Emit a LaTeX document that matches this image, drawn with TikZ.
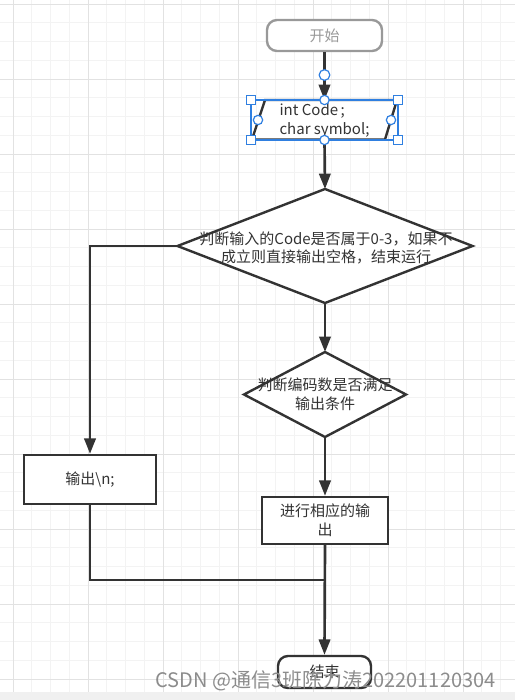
\documentclass[tikz,border=0pt]{standalone}
\usepackage{fontspec}
\setmainfont{Noto Sans CJK SC}
\usetikzlibrary{arrows.meta}
\definecolor{ink}{HTML}{333333}
\definecolor{gridminor}{HTML}{F3F3F3}
\definecolor{gridmajor}{HTML}{E2E2E2}
\definecolor{barbg}{HTML}{F0F0F0}
\definecolor{selblue}{HTML}{2F7FE0}
\definecolor{startgray}{HTML}{999999}
\definecolor{wmark}{HTML}{8C8C8C}
\tikzset{
  gmin/.style={draw=gridminor,line width=0.75pt},
  gmaj/.style={draw=gridmajor,line width=0.75pt},
  txt/.style={text=ink,font=\fontsize{11.25}{14}\selectfont,inner sep=0pt},
  shapebox/.style={draw=ink,line width=1.8pt,fill=white,inner sep=0pt},
  ghost/.style={inner sep=0pt,outer sep=0pt},
  conn/.style={draw=ink,line width=2pt},
  arr/.style={conn,-{Triangle[length=11.5pt,width=8.5pt]}},
  handlesq/.style={draw=selblue,fill=white,line width=0.9pt,minimum size=6.5pt,inner sep=0pt},
  handlecirc/.style={draw=selblue,fill=white,line width=0.9pt,circle,minimum size=7pt,inner sep=0pt},
}
\begin{document}
\begin{tikzpicture}[x=0.75pt,y=-0.75pt]
\useasboundingbox (0,0) rectangle (515,700);
\fill[white] (0,0) rectangle (515,700);
% grid
\foreach \i in {0,...,26} {\draw[gmin] ({13+18.75*\i},0) -- ({13+18.75*\i},692);}
\foreach \j in {0,...,36} {\draw[gmin] (0,{4+18.75*\j}) -- (515,{4+18.75*\j});}
\foreach \i in {0,...,6} {\draw[gmaj] ({13+75*\i},0) -- ({13+75*\i},692);}
\foreach \j in {0,...,9} {\draw[gmaj] (0,{4+75*\j}) -- (515,{4+75*\j});}
\fill[barbg] (0,692) rectangle (515,700);

% nodes
\node[shapebox,draw=startgray,rounded corners=7.5pt,minimum width=86.25pt,minimum height=23.25pt,
      text=startgray,font=\fontsize{11.25}{14}\selectfont] (start) at (324.5,35.5) {开始};

\node[ghost,minimum width=110.25pt,minimum height=30pt] (io) at (324.5,120) {};
\draw[shapebox] (265,100) -- (397,100) -- (385,139.5) -- (252,139.5) -- cycle;
\node[txt,align=left] (iotext) at (324.5,121) {int Code\,;\\char symbol;};

\node[ghost,minimum width=221.25pt,minimum height=85.5pt] (d1) at (325,246) {};
\draw[shapebox] (d1.north) -- (d1.east) -- (d1.south) -- (d1.west) -- cycle;
\node[txt,align=center] (d1text) at (326,248) {判断输入的Code是否属于0-3，如果不\\成立则直接输出空格，结束运行};

\node[ghost,minimum width=121.5pt,minimum height=63.75pt] (d2) at (325,394.5) {};
\draw[shapebox] (d2.north) -- (d2.east) -- (d2.south) -- (d2.west) -- cycle;
\node[txt,align=center] (d2text) at (325,394.5) {判断编码数是否满足\\输出条件};

\node[shapebox,minimum width=99pt,minimum height=36.75pt,txt] (b1) at (90,479.5) {输出\textbackslash n;};
\node[shapebox,minimum width=94.5pt,minimum height=35.25pt,txt,align=center] (b2) at (325,520.5) {进行相应的输\\出};

\node[shapebox,rounded corners=7.5pt,minimum width=69.75pt,minimum height=24pt,txt] (end) at (324.5,672) {\raisebox{1.5pt}{结束}};

\coordinate (join) at (324.5,580);

% connectors
\draw[arr] (start.south) -- (io.north);
\draw[arr] (io.south) -- (d1.north);
\draw[arr] (d1.west) -| (b1.north);
\draw[arr] (d1.south) -- (d2.north);
\draw[arr] (d2.south) -- (b2.north);
\draw[arr] (b2.south) -- (end.north);
\draw[conn] (b1.south) |- (join);

% selection decorations
\draw[selblue,line width=0.9pt] (io.north west) rectangle (io.south east);
\node[handlesq] (h1) at (io.north west) {};
\node[handlesq] (h2) at (io.north east) {};
\node[handlesq] (h3) at (io.south west) {};
\node[handlesq] (h4) at (io.south east) {};
\node[handlecirc] (c1) at (io.north) {};
\node[handlecirc] (c2) at (io.south) {};
\node[handlecirc] (c3) at (258,120) {};
\node[handlecirc] (c4) at (391,120) {};
\node[handlecirc,minimum size=8pt] (c5) at (324.5,75) {};

% watermark
\node[inner sep=0pt,text=wmark,font=\fontsize{15}{18}\selectfont] (wm) at (325.5,681) {CSDN @通信3班陈力涛202201120304};
\end{tikzpicture}
\end{document}
